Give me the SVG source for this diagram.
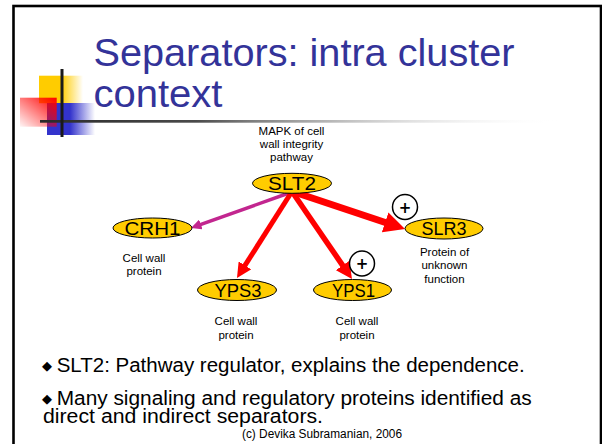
<svg xmlns="http://www.w3.org/2000/svg" width="602" height="444" viewBox="0 0 602 444">
  <style>
    .title { font-family: "Liberation Sans", Arial, sans-serif; font-size: 38px; fill: #333399; }
    .body { font-family: "Liberation Sans", Arial, sans-serif; font-size: 20px; fill: #000; }
    .bullet { font-family: "DejaVu Sans", sans-serif; font-size: 13px; fill: #000; }
    text.note { font-family: "Liberation Sans", Arial, sans-serif; font-size: 11.5px; fill: #000; text-anchor: middle; }
    .copy { font-family: "Liberation Sans", Arial, sans-serif; font-size: 12px; fill: #000; }
    .node ellipse { fill: #ffcc00; stroke: #000; stroke-width: 1; }
    .node text.nm { font-family: "Liberation Sans", Arial, sans-serif; font-size: 19px; fill: #000; text-anchor: middle; }
    .sign circle { fill: #fff; stroke: #000; stroke-width: 1.5; }
    .sign text { font-family: "DejaVu Sans", sans-serif; font-weight: bold; font-size: 15px; fill: #000; text-anchor: middle; }
    .edge { fill: none; stroke-linecap: butt; }
    .red { stroke: #ff0000; marker-end: url(#headRed); }
    .mag { stroke: #c2268f; marker-end: url(#headMag); }
  </style>
  <defs>
    <linearGradient id="gYellow" x1="0" y1="0" x2="1" y2="0">
      <stop offset="0" stop-color="#ffcc00"/>
      <stop offset="0.5" stop-color="#ffcc00"/>
      <stop offset="1" stop-color="#ffcc00" stop-opacity="0"/>
    </linearGradient>
    <linearGradient id="gBlue" x1="0" y1="0" x2="1" y2="0">
      <stop offset="0" stop-color="#3333cc"/>
      <stop offset="0.48" stop-color="#3333cc"/>
      <stop offset="1" stop-color="#3333cc" stop-opacity="0"/>
    </linearGradient>
    <linearGradient id="gRed" x1="1" y1="0" x2="0" y2="1">
      <stop offset="0" stop-color="#ff0000"/>
      <stop offset="1" stop-color="#ff0000" stop-opacity="0.04"/>
    </linearGradient>
    <linearGradient id="gBar" x1="0" y1="0" x2="1" y2="0">
      <stop offset="0" stop-color="#2a2a2a"/>
      <stop offset="0.3" stop-color="#4a4a4a"/>
      <stop offset="1" stop-color="#ffffff" stop-opacity="0"/>
    </linearGradient>
    <marker id="headRed" viewBox="0 0 10 10" refX="2" refY="5" markerWidth="3" markerHeight="3" markerUnits="strokeWidth" orient="auto">
      <path d="M0,0 L10,5 L0,10 z" fill="#ff0000"/>
    </marker>
    <marker id="headMag" viewBox="0 0 10 10" refX="2" refY="5" markerWidth="3" markerHeight="3" markerUnits="strokeWidth" orient="auto">
      <path d="M0,0 L10,5 L0,10 z" fill="#c2268f"/>
    </marker>
  </defs>

  <!-- slide frame -->
  <rect x="0" y="0" width="602" height="444" fill="#fff"/>
  <rect x="13.5" y="6" width="587.5" height="460" fill="#fff" stroke="#000" stroke-width="2.6"/>

  <!-- corner ornament -->
  <g id="ornament">
    <rect x="39" y="75.7" width="44" height="27.5" fill="url(#gYellow)"/>
    <rect x="47" y="103" width="48" height="32" fill="url(#gBlue)"/>
    <rect x="20" y="97.7" width="36.7" height="29" fill="url(#gRed)"/>
    <rect x="40" y="120" width="520" height="2.7" fill="url(#gBar)"/>
    <rect x="60.5" y="69" width="3" height="68" fill="#1a1a1a"/>
  </g>

  <!-- title -->
  <text class="title" x="93.5" y="66" textLength="421" lengthAdjust="spacingAndGlyphs">Separators: intra cluster</text>
  <text class="title" x="93.5" y="107" textLength="129" lengthAdjust="spacingAndGlyphs">context</text>

  <!-- connectors -->
  <g id="connectors">
    <line class="edge mag" x1="289" y1="193" x2="198.9" y2="225.2" stroke-width="3.5"/>
    <line class="edge red" x1="291" y1="193" x2="243.4" y2="267.9" stroke-width="5"/>
    <line class="edge red" x1="293" y1="193" x2="344.5" y2="268.1" stroke-width="5.5"/>
    <line class="edge red" x1="294" y1="192" x2="389.1" y2="223.7" stroke-width="7"/>
  </g>

  <!-- nodes -->
  <g id="SLT2" class="node">
    <ellipse cx="292" cy="183.3" rx="39.5" ry="10"/>
    <text class="nm" x="292" y="189.5" textLength="48" lengthAdjust="spacingAndGlyphs">SLT2</text>
    <text class="note" x="291.5" y="135">MAPK of cell</text>
    <text class="note" x="291.5" y="148">wall integrity</text>
    <text class="note" x="291.5" y="161">pathway</text>
  </g>
  <g id="CRH1" class="node">
    <ellipse cx="152.5" cy="228" rx="39.5" ry="10"/>
    <text class="nm" x="152.5" y="234.5" textLength="56" lengthAdjust="spacingAndGlyphs">CRH1</text>
    <text class="note" x="144" y="262">Cell wall</text>
    <text class="note" x="144" y="275">protein</text>
  </g>
  <g id="SLR3" class="node">
    <ellipse cx="444" cy="228.5" rx="39" ry="10.5"/>
    <text class="nm" x="444" y="235" textLength="45" lengthAdjust="spacingAndGlyphs">SLR3</text>
    <text class="note" x="444.5" y="255.5">Protein of</text>
    <text class="note" x="444.5" y="269">unknown</text>
    <text class="note" x="444.5" y="282.5">function</text>
  </g>
  <g id="YPS3" class="node">
    <ellipse cx="237" cy="290" rx="39.5" ry="10.5"/>
    <text class="nm" x="238" y="296.5" textLength="47" lengthAdjust="spacingAndGlyphs">YPS3</text>
    <text class="note" x="236" y="325">Cell wall</text>
    <text class="note" x="236" y="339">protein</text>
  </g>
  <g id="YPS1" class="node">
    <ellipse cx="352.5" cy="290" rx="39" ry="10.5"/>
    <text class="nm" x="353.5" y="296.5" textLength="43" lengthAdjust="spacingAndGlyphs">YPS1</text>
    <text class="note" x="357" y="325">Cell wall</text>
    <text class="note" x="357" y="339">protein</text>
  </g>

  <!-- positive signs -->
  <g id="plusSLR3" class="sign">
    <circle cx="405" cy="207" r="12.5"/>
    <text x="405" y="212.5">+</text>
  </g>
  <g id="plusYPS1" class="sign">
    <circle cx="362" cy="263.5" r="12.5"/>
    <text x="362" y="269">+</text>
  </g>

  <!-- bullet text -->
  <text class="bullet" x="42" y="369.5">◆</text>
  <text class="body" x="56.7" y="371.5" textLength="468" lengthAdjust="spacingAndGlyphs">SLT2: Pathway regulator, explains the dependence.</text>
  <text class="bullet" x="42" y="402.5">◆</text>
  <text class="body" x="56.7" y="405" textLength="475" lengthAdjust="spacingAndGlyphs">Many signaling and regulatory proteins identified as</text>
  <text class="body" x="43" y="423" textLength="280" lengthAdjust="spacingAndGlyphs">direct and indirect separators.</text>
  <text class="copy" x="242" y="438" textLength="160" lengthAdjust="spacingAndGlyphs">(c) Devika Subramanian, 2006</text>
</svg>
